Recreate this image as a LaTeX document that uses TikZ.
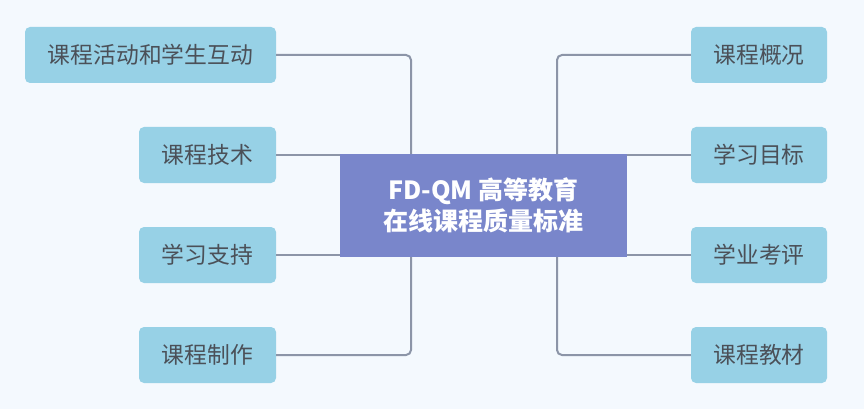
\documentclass[tikz,border=0pt]{standalone}
\usepackage{fontspec}
\newfontfamily\cjk{Noto Sans CJK SC}
\definecolor{bgc}{HTML}{F4F9FE}
\definecolor{leaffill}{HTML}{97D1E6}
\definecolor{leaftext}{HTML}{4B5058}
\definecolor{centerfill}{HTML}{7986CB}
\definecolor{connc}{HTML}{8C95A8}
\tikzset{
  leaf/.style={rectangle, rounded corners=5pt, fill=leaffill, text=leaftext,
    minimum height=56pt, inner sep=0pt, font=\cjk\fontsize{22.8}{27}\selectfont},
  centerbox/.style={rectangle, fill=centerfill, text=white, align=center,
    minimum width=287pt, minimum height=103pt, inner sep=0pt,
    font=\cjk\bfseries\fontsize{25}{31}\selectfont},
  conn/.style={draw=connc, line width=2pt, rounded corners=5pt}
}
\begin{document}
\begin{tikzpicture}[x=1pt,y=-1pt]
\fill[bgc] (0,0) rectangle (864,409);
\useasboundingbox (0,0) rectangle (864,409);
\node[centerbox] (c) at (483.5,205.5) {FD-QM 高等教育\\在线课程质量标准};
\node[leaf, minimum width=251pt] (l1) at (150.5,55) {课程活动和学生互动};
\node[leaf, minimum width=137pt] (l2) at (207.5,155) {课程技术};
\node[leaf, minimum width=137pt] (l3) at (207.5,255) {学习支持};
\node[leaf, minimum width=137pt] (l4) at (207.5,355) {课程制作};
\node[leaf, minimum width=136pt] (r1) at (759,55) {课程概况};
\node[leaf, minimum width=136pt] (r2) at (759,155) {学习目标};
\node[leaf, minimum width=136pt] (r3) at (759,255) {学业考评};
\node[leaf, minimum width=136pt] (r4) at (759,355) {课程教材};
\coordinate (lt) at (411,154);
\coordinate (lb) at (411,257);
\coordinate (rt) at (557,154);
\coordinate (rb) at (557,257);
\draw[conn] (l1.east) -| (lt);
\draw[conn] (l2.east) -- (l2.east -| c.west);
\draw[conn] (l3.east) -- (l3.east -| c.west);
\draw[conn] (l4.east) -| (lb);
\draw[conn] (r1.west) -| (rt);
\draw[conn] (r2.west) -- (r2.west -| c.east);
\draw[conn] (r3.west) -- (r3.west -| c.east);
\draw[conn] (r4.west) -| (rb);
\end{tikzpicture}
\end{document}
